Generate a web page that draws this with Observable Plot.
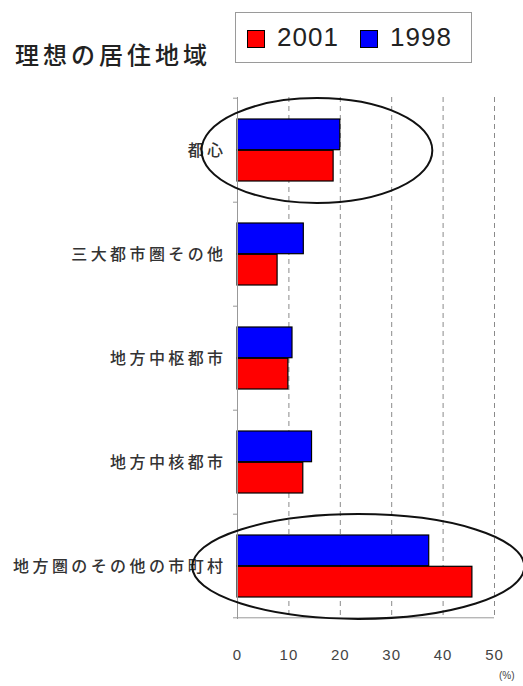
<!DOCTYPE html>
<html>
<head>
<meta charset="utf-8">
<script src="https://cdn.jsdelivr.net/npm/d3@7"></script>
<script src="https://cdn.jsdelivr.net/npm/@observablehq/plot@0.6"></script>
<style>
  html, body { margin: 0; padding: 0; background: #fff; }
  #wrap { position: relative; width: 523px; height: 686px; overflow: hidden; font-family: "Noto Sans CJK JP", "Noto Sans", sans-serif; }
  #title { position: absolute; left: 15px; top: 42px; font-size: 24px; line-height: 1; letter-spacing: 4px; color: #222; white-space: nowrap; font-weight: 500; }
  #legend { position: absolute; left: 235px; top: 12px; width: 235px; height: 49px; border: 1.5px solid #9a9a9a; box-sizing: content-box; font-family: "Liberation Sans", Arial, sans-serif; font-size: 26px; color: #222; }
  .sw { position: absolute; top: 17px; width: 16px; height: 16px; border: 1.2px solid #000; }
  .lt { position: absolute; top: 10px; line-height: 1.1; letter-spacing: 1px; }
  #unit { position: absolute; left: 499px; top: 670px; font-size: 10px; color: #444; font-family: "Liberation Sans", Arial, sans-serif; }
  #chart { position: absolute; left: 0; top: 0; }
</style>
</head>
<body>
<div id="wrap">
  <div id="chart"></div>
  <div id="title"></div>
  <div id="legend"></div>
  <div id="unit"></div>
</div>
<script>
const titleText = "理想の居住地域";
const categories = ["都心", "三大都市圏その他", "地方中枢都市", "地方中核都市", "地方圏のその他の市町村"];
const series = ["2001", "1998"];
const seriesColors = ["#ff0000", "#0000ff"];
const values2001 = [18.7, 7.8, 9.9, 12.8, 45.7];
const values1998 = [20.0, 12.9, 10.7, 14.5, 37.3];
const xTicks = [0, 10, 20, 30, 40, 50];
const unitLabel = "(%)";
// highlighted groups: category and x extent (in %) of the ellipse
const highlightCats = ["都心", "地方圏のその他の市町村"];
const highlightX1 = [-6.9, -8.7];
const highlightX2 = [38.0, 55.9];

document.getElementById("title").textContent = titleText;
document.getElementById("unit").textContent = unitLabel;

// legend
const legend = document.getElementById("legend");
const swLeft = [11, 124];
series.forEach((s, i) => {
  const sw = document.createElement("div");
  sw.className = "sw";
  sw.style.left = swLeft[i] + "px";
  sw.style.background = seriesColors[i];
  legend.appendChild(sw);
  const t = document.createElement("div");
  t.className = "lt";
  t.style.left = (swLeft[i] + 30) + "px";
  t.textContent = s;
  legend.appendChild(t);
});

const rows2001 = categories.map((c, i) => ({cat: c, value: values2001[i]}));
const rows1998 = categories.map((c, i) => ({cat: c, value: values1998[i]}));
const highlights = highlightCats.map((c, i) => ({cat: c, x1: highlightX1[i], x2: highlightX2[i]}));

const pi = 0.4, po = 0.2;

function boundaryTicks(index, scales, values, dims) {
  const {x, y} = scales;
  const step = y.step();
  const g = d3.create("svg:g").attr("stroke", "#999").attr("stroke-width", 1);
  const ys = categories.map(c => y(c) - step * pi / 2);
  const yEnd = y(categories[categories.length - 1]) + y.bandwidth() + step * pi / 2;
  ys.push(yEnd);
  ys.forEach(yy => {
    g.append("line").attr("x1", x(0) - 4).attr("x2", x(0)).attr("y1", yy).attr("y2", yy);
  });
  // bottom border of the plot area
  g.append("line").attr("x1", x(0)).attr("x2", x(xTicks[xTicks.length - 1])).attr("y1", yEnd).attr("y2", yEnd);
  return g.node();
}

function halfBars(rows, color, top) {
  return Plot.barX(rows, {
    y: "cat", x: "value", fill: color, stroke: "#000", strokeWidth: 1.2,
    insetTop: top ? 0 : 31.3, insetBottom: top ? 31.3 : 0
  });
}

function ellipses(index, scales, values, dims) {
  const {x, y} = scales;
  const g = d3.create("svg:g").attr("fill", "none").attr("stroke", "#111").attr("stroke-width", 2);
  highlights.forEach(h => {
    const cx = (x(h.x1) + x(h.x2)) / 2;
    const rx = (x(h.x2) - x(h.x1)) / 2;
    const cy = y(h.cat) + y.bandwidth() / 2 + 0.5;
    const ry = y.bandwidth() * 0.845;
    g.append("ellipse").attr("cx", cx).attr("cy", cy).attr("rx", rx).attr("ry", ry);
  });
  return g.node();
}

const chart = Plot.plot({
  width: 523,
  height: 686,
  marginTop: 97,
  marginBottom: 67,
  marginLeft: 237,
  marginRight: 29,
  style: {background: "transparent", fontFamily: "'Noto Sans CJK JP', sans-serif", overflow: "visible"},
  x: {domain: [0, 50], ticks: xTicks, label: null},
  y: {domain: categories, paddingInner: pi, paddingOuter: po, label: null},
  marks: [
    Plot.ruleX(xTicks.slice(1), {stroke: "#8a8a8a", strokeWidth: 1, strokeDasharray: "5,4"}),
    boundaryTicks,
    halfBars(rows1998, seriesColors[1], true),
    halfBars(rows2001, seriesColors[0], false),
    Plot.ruleX([0], {stroke: "#999", strokeWidth: 1}),
    Plot.axisX({ticks: xTicks, tickSize: 0, tickPadding: 30, fontSize: 15, fill: "#444", label: null,
      fontFamily: "'Liberation Sans', Arial, sans-serif", tickFormat: d => String(d)}),
    Plot.axisY({tickSize: 0, tickPadding: 11, fontSize: 16, fill: "#333", label: null, fontWeight: 500}),
    ellipses
  ]
});
chart.querySelectorAll("g[aria-label='y-axis tick label'] text").forEach(t => t.setAttribute("letter-spacing", "3.4"));
chart.querySelectorAll("g[aria-label='x-axis tick label'] text").forEach(t => t.setAttribute("letter-spacing", "1"));
document.getElementById("chart").appendChild(chart);
</script>
</body>
</html>
